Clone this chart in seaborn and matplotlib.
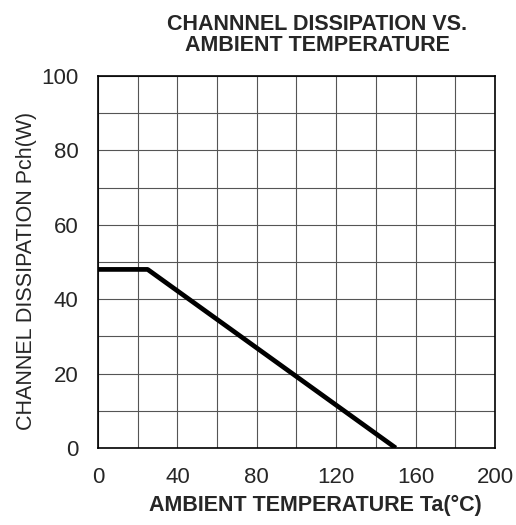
import numpy as np
import pandas as pd
import matplotlib
matplotlib.use("Agg")
import matplotlib.pyplot as plt
import seaborn as sns

# --- 데이터 ---
ta = [0, 25, 150]          # ambient temperature (°C)
pch = [48, 48, 0]          # channel dissipation (W)
x_ticks = list(range(0, 201, 20))
y_ticks = list(range(0, 101, 10))

sns.set_style("white")
plt.rcParams['font.family'] = ['Liberation Sans', 'DejaVu Sans']

fig = plt.figure(figsize=(5.16, 5.25), dpi=100)
ax = fig.add_axes([0.1899, 0.1467, 0.7694, 0.7086])

df = pd.DataFrame({'Ta': ta, 'Pch': pch})
sns.lineplot(data=df, x='Ta', y='Pch', ax=ax, color='black', linewidth=3.4,
             sort=False, solid_capstyle='butt', zorder=3)

ax.set_xlim(0, 200)
ax.set_ylim(0, 100)
ax.set_xticks(x_ticks)
ax.set_yticks(y_ticks)
ax.set_xticklabels([str(t) if t % 40 == 0 else '' for t in x_ticks], fontsize=16)
ax.set_yticklabels([str(t) if t % 20 == 0 else '' for t in y_ticks], fontsize=16)
ax.tick_params(axis='x', length=0, pad=14)
ax.tick_params(axis='y', length=0, pad=14)
ax.grid(True, color='#555555', linewidth=0.8)
for s in ax.spines.values():
    s.set_color('black')
    s.set_linewidth(1.2)

ax.set_xlabel('AMBIENT TEMPERATURE Ta(°C)', fontsize=15.5, fontweight='bold',
              labelpad=5, x=0.547)
ax.set_ylabel('CHANNEL DISSIPATION Pch(W)', fontsize=15.5, labelpad=3, y=0.475)
ax.set_title('CHANNNEL DISSIPATION VS.\nAMBIENT TEMPERATURE', fontsize=15.5,
             fontweight='bold', pad=18, linespacing=1.0, x=0.553)

plt.savefig('out.png', dpi=100)
plt.close()
